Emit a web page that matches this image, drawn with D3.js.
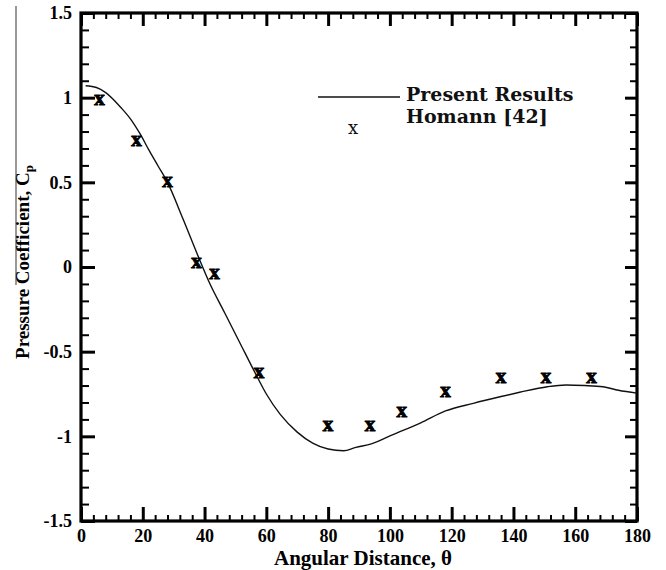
<!DOCTYPE html>
<html>
<head>
<meta charset="utf-8">
<script src="https://cdn.jsdelivr.net/npm/d3@7"></script>
<style>
  body { margin: 0; background: #fff; }
  svg { display: block; }
</style>
</head>
<body>
<div id="chart"></div>
<script>
// curve: present results
const curveTheta = [1.5, 5, 8, 13, 16, 19, 22, 25, 28, 33, 38, 41.5, 46.5, 51.5, 56.5, 60, 64.5, 70, 75, 80, 85, 89, 94, 101, 110, 118, 127, 136, 142, 151, 157, 163, 169, 174, 180];
const curveCp = [1.07, 1.06, 1.03, 0.94, 0.875, 0.79, 0.69, 0.595, 0.5, 0.285, 0.06, -0.09, -0.27, -0.45, -0.63, -0.75, -0.87, -0.975, -1.04, -1.075, -1.085, -1.065, -1.045, -0.99, -0.92, -0.85, -0.805, -0.765, -0.74, -0.707, -0.697, -0.7, -0.707, -0.728, -0.745];

// experiment: Homann [42]
const expTheta = [6, 18, 28, 37.4, 43.2, 57.6, 80, 93.6, 103.8, 118, 136, 150.5, 165.3];
const expCp = [0.985, 0.744, 0.504, 0.022, -0.04, -0.625, -0.937, -0.94, -0.855, -0.737, -0.658, -0.658, -0.658];

const xTicks = [0, 20, 40, 60, 80, 100, 120, 140, 160, 180];
const yTicks = [-1.5, -1, -0.5, 0, 0.5, 1, 1.5];
const yTickLabels = ["-1.5", "-1", "-0.5", "0", "0.5", "1", "1.5"];
const legendLabels = ["Present Results", "Homann [42]"];

const width = 666, height = 570;
const margin = { top: 13, right: 29, bottom: 49, left: 81 };
const serif = "'Liberation Serif', 'Times New Roman', serif";

const svg = d3.select("#chart").append("svg")
  .attr("width", width)
  .attr("height", height);

const x = d3.scaleLinear().domain([0, 180]).range([margin.left, width - margin.right]);
const y = d3.scaleLinear().domain([-1.5, 1.5]).range([height - margin.bottom, margin.top]);

const xMinor = d3.range(0, 181, 4).filter((v) => v % 20 !== 0);
const yMinor = d3.range(-15, 16, 1).filter((v) => v % 5 !== 0).map((v) => v / 10);

// stray crop line at the far left
svg.append("line")
  .attr("x1", 16).attr("x2", 16)
  .attr("y1", 6).attr("y2", 285)
  .attr("stroke", "#555").attr("stroke-width", 1.2);

function styleAxis(g, w) {
  g.select(".domain").remove();
  g.selectAll("line").attr("stroke", "#000").attr("stroke-width", w);
  g.selectAll("text")
    .attr("font-family", serif)
    .attr("font-weight", "bold")
    .attr("font-size", 18)
    .attr("fill", "#000");
}

const bottomY = height - margin.bottom;
const rightX = width - margin.right;

// bottom
svg.append("g").attr("transform", `translate(0,${bottomY})`)
  .call(d3.axisBottom(x).tickValues(xTicks).tickSize(-14).tickPadding(8).tickFormat(d3.format("d")))
  .call((g) => styleAxis(g, 3));
svg.append("g").attr("transform", `translate(0,${bottomY})`)
  .call(d3.axisBottom(x).tickValues(xMinor).tickSize(-6).tickFormat(""))
  .call((g) => styleAxis(g, 2));

// top
svg.append("g").attr("transform", `translate(0,${margin.top})`)
  .call(d3.axisTop(x).tickValues(xTicks).tickSize(-13).tickFormat(""))
  .call((g) => styleAxis(g, 3));
svg.append("g").attr("transform", `translate(0,${margin.top})`)
  .call(d3.axisTop(x).tickValues(xMinor).tickSize(-6).tickFormat(""))
  .call((g) => styleAxis(g, 2));

// left
svg.append("g").attr("transform", `translate(${margin.left},0)`)
  .call(d3.axisLeft(y).tickValues(yTicks).tickSize(-14).tickPadding(9)
    .tickFormat((d, i) => yTickLabels[i]))
  .call((g) => styleAxis(g, 3));
svg.append("g").attr("transform", `translate(${margin.left},0)`)
  .call(d3.axisLeft(y).tickValues(yMinor).tickSize(-8).tickFormat(""))
  .call((g) => styleAxis(g, 2));

// right
svg.append("g").attr("transform", `translate(${rightX},0)`)
  .call(d3.axisRight(y).tickValues(yTicks).tickSize(-12).tickFormat(""))
  .call((g) => styleAxis(g, 3));
svg.append("g").attr("transform", `translate(${rightX},0)`)
  .call(d3.axisRight(y).tickValues(yMinor).tickSize(-7).tickFormat(""))
  .call((g) => styleAxis(g, 2));

// frame
svg.append("rect")
  .attr("x", margin.left).attr("y", margin.top)
  .attr("width", rightX - margin.left)
  .attr("height", bottomY - margin.top)
  .attr("fill", "none")
  .attr("stroke", "#000")
  .attr("stroke-width", 3.2);

// present results curve
const line = d3.line()
  .x((d) => x(d[0]))
  .y((d) => y(d[1]))
  .curve(d3.curveMonotoneX);

svg.append("path")
  .datum(d3.zip(curveTheta, curveCp))
  .attr("d", line)
  .attr("fill", "none")
  .attr("stroke", "#111")
  .attr("stroke-width", 1.4);

// Homann markers
svg.append("g")
  .selectAll("text")
  .data(d3.zip(expTheta, expCp))
  .join("text")
  .attr("x", (d) => x(d[0]))
  .attr("y", (d) => y(d[1]))
  .attr("dy", "0.24em")
  .attr("text-anchor", "middle")
  .attr("font-family", serif)
  .attr("font-weight", "bold")
  .attr("font-size", 21)
  .attr("fill", "#000")
  .attr("stroke", "#000")
  .attr("stroke-width", 0.9)
  .text("x");

// legend
const legend = svg.append("g");
legend.append("line")
  .attr("x1", 318).attr("x2", 400)
  .attr("y1", 97).attr("y2", 97)
  .attr("stroke", "#111").attr("stroke-width", 1.4);
legend.append("text")
  .attr("x", 353).attr("y", 134)
  .attr("text-anchor", "middle")
  .attr("font-family", "'DejaVu Serif', serif")
  .attr("font-size", 18)
  .attr("fill", "#111")
  .text("x");
legend.selectAll("text.lab")
  .data(legendLabels)
  .join("text")
  .attr("class", "lab")
  .attr("x", 406)
  .attr("y", (d, i) => 101 + i * 22)
  .attr("font-family", "'DejaVu Serif', serif")
  .attr("font-weight", "bold")
  .attr("font-size", 19)
  .attr("fill", "#111")
  .text((d) => d);

// axis titles
svg.append("text")
  .attr("x", 363).attr("y", 565)
  .attr("text-anchor", "middle")
  .attr("font-family", serif)
  .attr("font-weight", "bold")
  .attr("font-size", 21)
  .text("Angular Distance, θ");

const yt = svg.append("text")
  .attr("transform", "translate(29,262) rotate(-90)")
  .attr("text-anchor", "middle")
  .attr("font-family", serif)
  .attr("font-weight", "bold")
  .attr("font-size", 19);
yt.append("tspan").text("Pressure Coefficient, C");
yt.append("tspan").attr("font-size", 13).attr("dy", 4).text("p");
</script>
</body>
</html>
